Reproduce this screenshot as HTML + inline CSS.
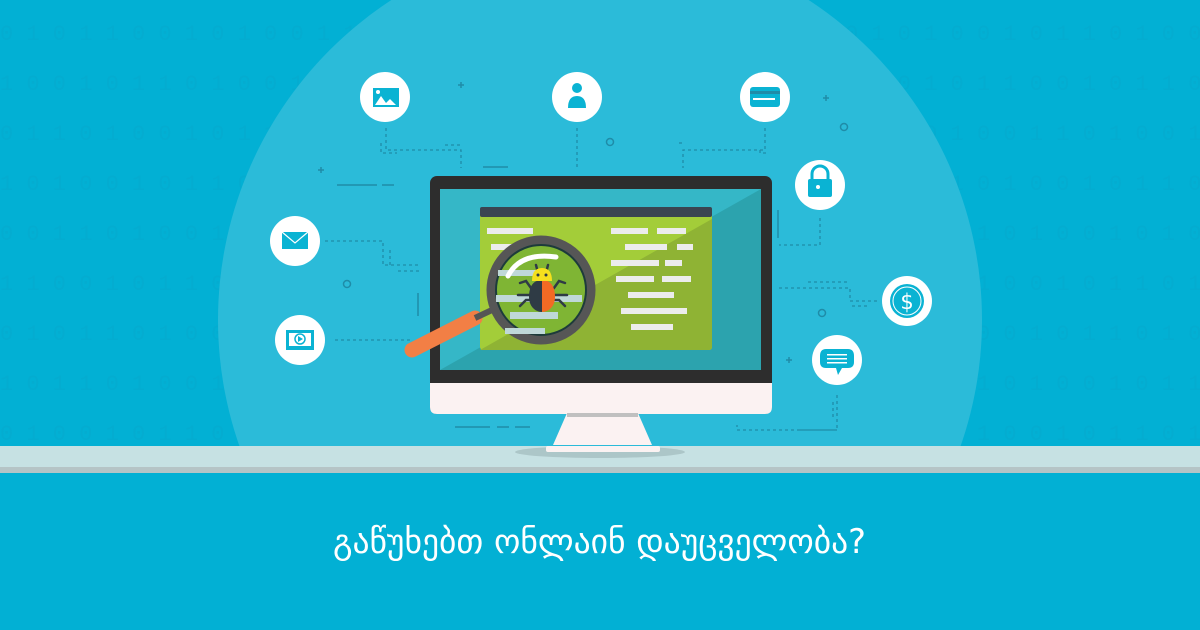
<!DOCTYPE html>
<html><head><meta charset="utf-8"><style>
html,body{margin:0;padding:0;width:1200px;height:630px;overflow:hidden;background:#02b0d4}
svg{display:block}
</style></head><body>
<svg width="1200" height="630" viewBox="0 0 1200 630" xmlns="http://www.w3.org/2000/svg" style="overflow:hidden">
<rect width="1200" height="630" fill="#02b0d4"/>
<g fill="#0aa5c9" font-family="Liberation Mono, monospace" font-size="22" opacity="0.35">
<text x="0" y="40">0 1 0 1 1 0 0 1 0 1 0 0 1 1 0 1 0 1 0 0 1 0 1 1 0 1 0 0 1 0 1 1 0 1 0 1 0 0 1 0 1 1 0 1 0 0 1</text>
<text x="0" y="90">1 0 0 1 0 1 1 0 1 0 0 1 0 1 1 0 0 1 0 1 1 0 1 0 0 1 0 1 0 1 1 0 1 0 0 1 0 1 1 0 0 1 0 1 1 0 1</text>
<text x="0" y="140">0 1 1 0 1 0 0 1 0 1 1 0 1 0 0 1 1 0 1 0 0 1 0 1 1 0 1 0 1 0 0 1 0 1 1 0 1 0 0 1 1 0 1 0 0 1 0</text>
<text x="0" y="190">1 0 1 0 0 1 0 1 1 0 1 0 0 1 0 1 0 1 1 0 1 0 0 1 0 1 1 0 1 0 0 1 0 1 0 1 1 0 1 0 0 1 0 1 1 0 1</text>
<text x="0" y="240">0 0 1 1 0 1 0 0 1 0 1 1 0 1 0 0 1 0 1 0 1 1 0 1 0 0 1 0 1 1 0 1 0 0 1 0 1 1 0 1 0 0 1 0 1 0 1</text>
<text x="0" y="290">1 1 0 0 1 0 1 1 0 1 0 0 1 0 1 1 0 1 0 1 0 0 1 0 1 1 0 1 0 0 1 0 1 1 0 1 0 1 0 0 1 0 1 1 0 1 0</text>
<text x="0" y="340">0 1 0 1 1 0 1 0 0 1 0 1 1 0 1 0 0 1 1 0 1 0 0 1 0 1 1 0 1 0 0 1 0 1 1 0 1 0 0 1 0 1 1 0 1 0 0</text>
<text x="0" y="390">1 0 1 1 0 1 0 0 1 0 1 1 0 1 0 0 1 0 1 0 1 1 0 1 0 0 1 0 1 1 0 1 0 0 1 0 1 1 0 1 0 0 1 0 1 1 0</text>
<text x="0" y="440">0 1 0 0 1 0 1 1 0 1 0 0 1 0 1 1 0 1 0 1 0 0 1 0 1 1 0 1 0 0 1 0 1 1 0 1 0 1 0 0 1 0 1 1 0 1 0</text>
</g>
<circle cx="600" cy="320" r="382" fill="#2bbbd9"/>
<rect x="0" y="446" width="1200" height="22" fill="#c6e1e3"/>
<rect x="0" y="467" width="1200" height="6" fill="#b5c4c6"/>
<rect x="0" y="473" width="1200" height="157" fill="#02b0d4"/>
<g fill="none" stroke="#1f8ca8" stroke-width="1.3" stroke-dasharray="3 3">
<path d="M386 128 V150 H461 V168"/><path d="M381 143 V153 H397"/><path d="M445 145 H462"/>
<path d="M577 128 V168"/>
<path d="M765 128 V150 H683 V168"/><path d="M679 143 H685"/><path d="M760 150 V153 H768"/>
<path d="M820 218 V245 H779"/>
<path d="M325 241 H383 V265 H420"/><path d="M390 250 V265"/><path d="M398 271 H420"/>
<path d="M335 340 H410"/>
<path d="M779 288 H850 V301 H880"/><path d="M808 282 H850"/><path d="M852 306 H867"/>
<path d="M837 395 V430 H737 V425"/><path d="M833 402 V420"/><path d="M800 430 H837"/>
</g>
<g stroke="#1f8ca8" stroke-width="1.5" fill="none">
<path d="M337 185 H377 M382 185 H394"/><path d="M483 167 H508"/>
<path d="M418 293 V316"/><path d="M778 210 V238"/>
<path d="M455 427 H490 M497 427 H509 M515 427 H530"/>
<path d="M461 82 V88 M458 85 H464"/><path d="M321 167 V173 M318 170 H324"/>
<path d="M826 95 V101 M823 98 H829"/><path d="M789 357 V363 M786 360 H792"/>
<circle cx="610" cy="142" r="3.5"/><circle cx="347" cy="284" r="3.5"/><circle cx="844" cy="127" r="3.5"/><circle cx="822" cy="313" r="3.5"/>
</g>
<g fill="#fff"><circle cx="385" cy="97" r="25"/><circle cx="577" cy="97" r="25"/><circle cx="765" cy="97" r="25"/><circle cx="820" cy="185" r="25"/><circle cx="295" cy="241" r="25"/><circle cx="300" cy="340" r="25"/><circle cx="907" cy="301" r="25"/><circle cx="837" cy="360" r="25"/></g>
<g fill="#0ab3d3">
<rect x="373" y="88" width="26" height="19"/><path d="M375 105 L381 96 L386 103 L390 99 L396 105Z" fill="#fff"/><circle cx="378" cy="92" r="2" fill="#fff"/>
<circle cx="577" cy="88" r="5"/><path d="M568 108 Q568 96 577 96 Q586 96 586 108Z"/>
<rect x="750" y="87" width="30" height="20" rx="3"/><rect x="750" y="91" width="30" height="3" fill="#1f8ca8"/><rect x="753" y="98" width="22" height="2" fill="#fff"/>
<path d="M812 180 V174 A8 8 0 0 1 828 174 V180" fill="none" stroke="#0ab3d3" stroke-width="3"/><rect x="808" y="179" width="24" height="18" rx="2"/><circle cx="818" cy="187" r="2" fill="#fff"/>
<rect x="282" y="232" width="26" height="17"/><path d="M282 232 L295 243 L308 232" stroke="#fff" stroke-width="1.2" fill="none"/>
<rect x="286" y="330" width="28" height="20"/><rect x="289" y="333" width="22" height="13" fill="#fff"/><circle cx="300" cy="339" r="5" fill="none" stroke="#0ab3d3" stroke-width="1.5"/><path d="M298 336 L303 339 L298 342Z"/>
<circle cx="907" cy="301" r="17"/><circle cx="907" cy="301" r="14" fill="none" stroke="#fff" stroke-width="1"/>
<path d="M826 349 H848 Q854 349 854 356 V362 Q854 368 848 368 H842 L838 375 L836 368 H826 Q820 368 820 362 V356 Q820 349 826 349Z"/>
</g>
<text x="907" y="309" fill="#fff" font-family="DejaVu Sans, sans-serif" font-size="21" text-anchor="middle">$</text>
<g fill="#fff"><rect x="827" y="354" width="20" height="1.5"/><rect x="827" y="358" width="20" height="1.5"/><rect x="827" y="362" width="20" height="1.5"/></g>
<rect x="430" y="176" width="342" height="238" rx="7" fill="#2d2d2d"/>
<path d="M430 383 H772 V407 Q772 414 765 414 H437 Q430 414 430 407Z" fill="#fbf2f2"/>
<rect x="440" y="189" width="321" height="181" fill="#35b7c7"/>
<path d="M440 370 L761 189 V370Z" fill="#2ca3ae"/>
<path d="M567 413 H638 L652 445 H553Z" fill="#fbf2f2"/>
<rect x="567" y="413" width="71" height="4" fill="#c0c0c0"/>
<ellipse cx="600" cy="452" rx="85" ry="6" fill="#acc6c8"/>
<rect x="546" y="446" width="114" height="6" rx="2" fill="#fbf2f2"/>
<rect x="480" y="207" width="232" height="143" rx="3" fill="#a3cd39"/>
<path d="M480 350 L712 219 V347 Q712 350 709 350Z" fill="#8fb334"/>
<rect x="480" y="207" width="232" height="10" rx="2" fill="#3a4551"/>
<g fill="#ececec">
<rect x="487" y="228" width="46" height="6"/><rect x="491" y="244" width="40" height="6"/>
<rect x="611" y="228" width="37" height="6"/><rect x="657" y="228" width="29" height="6"/>
<rect x="625" y="244" width="42" height="6"/><rect x="677" y="244" width="16" height="6"/>
<rect x="611" y="260" width="48" height="6"/><rect x="665" y="260" width="17" height="6"/>
<rect x="616" y="276" width="38" height="6"/><rect x="662" y="276" width="29" height="6"/>
<rect x="628" y="292" width="46" height="6"/><rect x="621" y="308" width="66" height="6"/>
<rect x="631" y="324" width="42" height="6"/>
</g>
<line x1="412" y1="350" x2="475" y2="318" stroke="#f27f45" stroke-width="15" stroke-linecap="round"/>
<line x1="475" y1="318" x2="492" y2="310" stroke="#555" stroke-width="6"/>
<circle cx="541" cy="290" r="50" fill="#7fb534" stroke="#565656" stroke-width="9"/>
<circle cx="541" cy="290" r="45" fill="none" stroke="#1d3b3b" stroke-width="2"/>
<g fill="#bfd8d8"><rect x="498" y="270" width="40" height="6"/><rect x="496" y="295" width="86" height="7"/><rect x="510" y="312" width="48" height="7"/><rect x="505" y="328" width="40" height="6"/></g>
<path d="M508 276 Q520 252 556 257" stroke="#fff" stroke-width="5" fill="none" stroke-linecap="round"/>
<g stroke="#2f3b45" stroke-width="2.5" fill="none" stroke-linecap="round">
<path d="M518 295 H530 M555 295 H567 M520 283 L526 281 L531 288 M565 283 L559 281 L554 288 M520 306 L526 300 L531 300 M565 306 L559 300 L554 300 M537 269 L536 265 M547 269 L548 265"/>
</g>
<path d="M542 280 C531 280 529 290 529 297 C529 306 535 312 542 312Z" fill="#2f3b45"/>
<path d="M542 280 C553 280 555 290 555 297 C555 306 549 312 542 312Z" fill="#f26a24"/>
<path d="M532 281 Q532 268 542 268 Q552 268 552 281Z" fill="#f5e01d"/>
<circle cx="538" cy="275" r="1.5" fill="#2f3b45"/><circle cx="546" cy="275" r="1.5" fill="#2f3b45"/>
<text x="333" y="553" fill="#fff" font-family="DejaVu Sans, sans-serif" font-size="34" textLength="533" lengthAdjust="spacingAndGlyphs">გაწუხებთ ონლაინ დაუცველობა?</text>
</svg>
</body></html>
